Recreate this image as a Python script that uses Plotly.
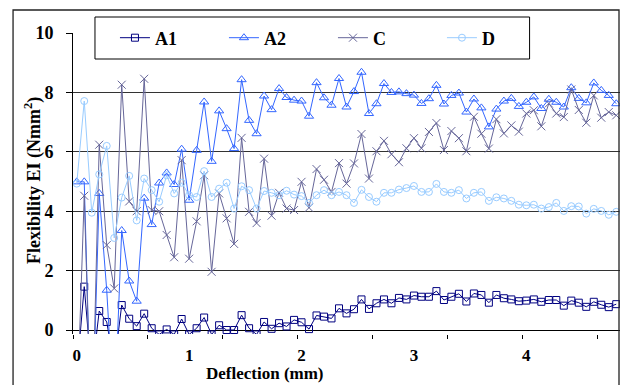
import plotly.graph_objects as go

# Flexibility EI (Nmm^2) per deflection step; one reading every 1/15 mm.
# Readings below the axis are drops that run off the bottom of the chart.
a1 = [-1.5, 1.46, -1.5, 0.64, 0.27, -1.2, 0.84, 0.38, 0.13, 0.55,
      0.06, -0.15, 0.02, -0.15, 0.37, -0.15, 0.06, 0.42, -0.15, 0.16,
      0.0, 0.0, 0.5, 0.06, -0.15, 0.27, 0.04, 0.23, 0.12, 0.34,
      0.26, 0.03, 0.49, 0.45, 0.39, 0.73, 0.56, 0.70, 1.03, 0.71,
      0.90, 1.03, 0.90, 1.08, 1.03, 1.16, 1.12, 1.12, 1.31, 1.01,
      1.12, 1.22, 0.96, 1.23, 1.18, 0.92, 1.18, 1.07, 1.03, 0.97,
      0.99, 1.03, 0.95, 1.01, 1.01, 0.82, 0.99, 0.92, 0.78, 0.95,
      0.85, 0.77, 0.87]

a2 = [4.99, 4.99, -4.0, 4.6, 1.34, -3.0, 3.35, 1.65, 0.97, 4.44,
      3.55, 4.95, 5.29, 4.9, 6.09, 4.37, 6.05, 7.68, 5.68, 7.38,
      6.78, 6.11, 8.43, 7.06, 6.61, 7.88, 7.42, 8.13, 7.83, 7.74,
      7.71, 7.2, 8.33, 7.82, 7.57, 8.47, 7.51, 8.03, 8.68, 7.29,
      7.62, 8.30, 8.0, 8.02, 7.96, 7.91, 7.63, 7.79, 8.24, 7.61,
      7.9, 7.98, 7.34, 7.78, 7.48, 6.84, 7.44, 7.71, 7.8, 7.53,
      7.67, 7.85, 7.46, 7.77, 7.67, 7.51, 8.16, 7.8, 7.65, 8.32,
      8.07, 7.9, 7.62]

c = [-3.0, 4.52, -4.0, 6.24, 2.86, 1.40, 8.26, 4.33, 4.0, 8.46,
     4.04, 4.0, 3.2, 2.45, 5.72, 2.4, 3.66, 5.21, 1.96, 4.6,
     3.76, 2.9, 6.47, 3.98, 3.6, 5.77, 3.85, 4.62, 4.09, 4.04,
     4.99, 4.12, 5.42, 5.06, 4.65, 5.62, 4.93, 5.61, 6.6, 5.1,
     6.02, 6.37, 5.92, 5.65, 6.12, 6.46, 6.12, 6.67, 6.97, 6.06,
     6.7, 6.46, 6.02, 7.18, 6.61, 6.11, 7.1, 6.62, 6.89, 6.68,
     7.29, 7.4, 6.86, 7.63, 7.29, 7.17, 8.1, 7.41, 6.98, 7.9,
     7.15, 7.34, 7.23]

d = [4.93, 7.71, 3.95, 5.24, 6.2, 3.1, 4.46, 5.19, 3.69, 5.1,
     4.71, 4.32, 5.21, 4.6, 4.96, 4.54, 4.48, 5.35, 4.48, 4.76,
     4.96, 4.09, 4.84, 4.71, 4.09, 4.68, 4.62, 4.54, 4.69, 4.56,
     4.51, 4.28, 4.54, 4.71, 4.54, 4.65, 4.54, 4.28, 4.72, 4.48,
     4.32, 4.62, 4.62, 4.73, 4.78, 4.85, 4.65, 4.65, 4.92, 4.65,
     4.62, 4.71, 4.43, 4.62, 4.65, 4.35, 4.47, 4.43, 4.35, 4.22,
     4.2, 4.22, 4.09, 4.14, 4.28, 4.01, 4.17, 4.16, 3.92, 4.08,
     4.01, 3.88, 3.98]

steps_per_mm = 15
deflection = [i / steps_per_mm for i in range(len(a1))]

x_tick_vals = [0, 1, 2, 3, 4]
x_tick_text = ["0", "1", "2", "3", "4"]
y_tick_vals = [0, 2, 4, 6, 8, 10]

series = [
    ("A1", a1, "#000080", "square-open", 7),
    ("A2", a2, "#3366FF", "triangle-up-open", 8),
    ("C", c, "#666699", "x-thin-open", 8),
    ("D", d, "#99CCFF", "circle-open", 7),
]

# page geometry (pixels)
W, H = 625, 385
L, R, T, B = 73, 620.5, 33, 334
Y0_PX = 330  # where y = 0 sits
px_per_unit = (Y0_PX - T) / 10.0
y_min = -(B - Y0_PX) / px_per_unit


def xp(px):
    return (px - L) / (R - L)


def yp(py):
    return (B - py) / (B - T)


FONT = "Liberation Serif"

fig = go.Figure()
for name, vals, color, symbol, size in series:
    fig.add_trace(go.Scatter(
        x=deflection, y=vals, name=name, mode="lines+markers",
        line=dict(color=color, width=1),
        marker=dict(symbol=symbol, size=size, color=color,
                    line=dict(color=color, width=1)),
    ))

half = 0.5 / steps_per_mm
fig.update_xaxes(
    range=[-half, len(a1) / steps_per_mm - half],
    tickvals=x_tick_vals, ticktext=x_tick_text, ticks="",
    showgrid=False, zeroline=False, showline=False,
    ticklabelstandoff=9,
    tickfont=dict(family=FONT, size=17, color="black", weight="bold"),
    minor=dict(tick0=-half, dtick=10 / steps_per_mm, ticks="outside",
               ticklen=4, tickcolor="black", tickwidth=1, showgrid=False),
)
fig.update_yaxes(
    range=[y_min, 10.002], tickvals=y_tick_vals, ticks="outside",
    ticklen=6, tickcolor="black", tickwidth=1,
    showline=True, linecolor="black", linewidth=1,
    showgrid=True, gridcolor="#333333", gridwidth=1,
    zeroline=True, zerolinecolor="black", zerolinewidth=1,
    ticklabelstandoff=9,
    tickfont=dict(family=FONT, size=18, color="black", weight="bold"),
)

shapes = [
    # outer chart frame
    dict(type="rect", xref="paper", yref="paper",
         x0=xp(13), x1=xp(619.5), y0=yp(400), y1=yp(10),
         line=dict(color="#222222", width=1.3), fillcolor="rgba(0,0,0,0)",
         layer="above"),
    # legend box
    dict(type="rect", xref="paper", yref="paper",
         x0=xp(95), x1=xp(530), y0=yp(59), y1=yp(17),
         line=dict(color="black", width=1), fillcolor="white",
         layer="above"),
]

annotations = [
    dict(text="Flexibility EI (Nmm<sup>2</sup>)", textangle=-90,
         xref="paper", yref="paper", x=xp(33), y=yp(181),
         xanchor="center", yanchor="middle", showarrow=False,
         font=dict(family=FONT, size=18, color="black", weight="bold")),
    dict(text="Deflection (mm)",
         xref="paper", yref="paper", x=xp(265), y=yp(385),
         xanchor="center", yanchor="bottom", showarrow=False,
         font=dict(family=FONT, size=17, color="black", weight="bold")),
]

fig.update_layout(
    width=W, height=H,
    margin=dict(l=L, r=W - R, t=T, b=H - B, pad=0),
    paper_bgcolor="white", plot_bgcolor="white",
    shapes=shapes, annotations=annotations,
    showlegend=True,
    legend=dict(orientation="h", x=xp(115), xanchor="left",
                y=yp(38), yanchor="middle",
                bgcolor="rgba(0,0,0,0)", borderwidth=0,
                entrywidth=64, entrywidthmode="pixels",
                font=dict(family=FONT, size=18, color="black", weight="bold")),
)

fig.write_html("out.html")
